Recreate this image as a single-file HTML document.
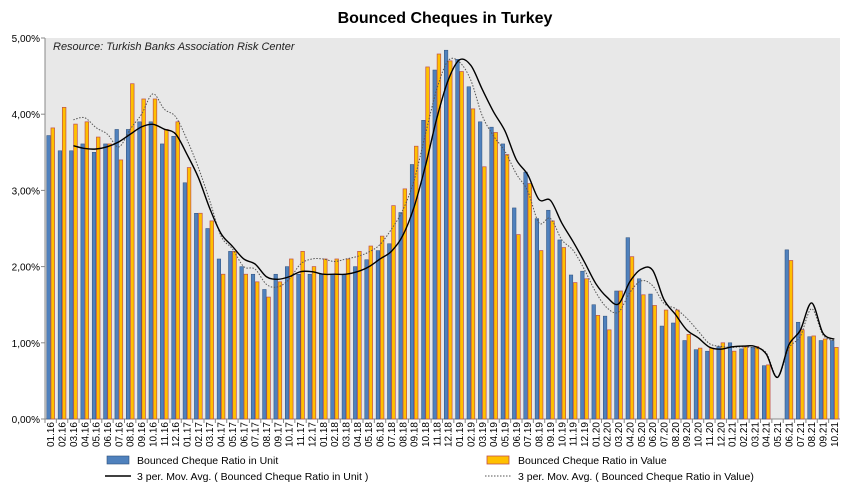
<!DOCTYPE html>
<html><head><meta charset="utf-8"><style>
body{margin:0;background:#fff;font-family:"Liberation Sans",sans-serif}
svg text{font-family:"Liberation Sans",sans-serif}
</style></head><body>
<svg width="841" height="492" viewBox="0 0 841 492" xmlns="http://www.w3.org/2000/svg">
<text x="445" y="23" text-anchor="middle" font-size="16" font-weight="bold">Bounced Cheques in Turkey</text>
<rect x="45" y="38" width="795" height="381" fill="#e8e8e8"/>
<text x="53" y="50" font-size="11" font-style="italic" fill="#222">Resource:  Turkish Banks Association Risk Center</text>
<g id="yaxis"></g>
<g id="xaxis"></g>
<g id="bars"></g>
<g id="lines"></g>
<g font-size="10.5">
<rect x="107" y="456" width="22" height="8" fill="#4f81bd" stroke="#2e4f7a" stroke-width="0.6"/>
<text x="137" y="464">Bounced Cheque Ratio in Unit</text>
<rect x="487" y="456" width="22" height="8" fill="#ffc000" stroke="#c0504d" stroke-width="0.8"/>
<text x="518" y="464">Bounced Cheque Ratio in Value</text>
<line x1="105" y1="476" x2="131" y2="476" stroke="#000" stroke-width="1.4"/>
<text x="137" y="480">3 per. Mov. Avg. ( Bounced Cheque Ratio in Unit )</text>
<line x1="485" y1="476" x2="511" y2="476" stroke="#555" stroke-width="1" stroke-dasharray="1.5,1.5"/>
<text x="518" y="480">3 per. Mov. Avg. ( Bounced Cheque Ratio in Value)</text>
</g>
</svg>
<script>
const categories=["01.16","02.16","03.16","04.16","05.16","06.16","07.16","08.16","09.16","10.16","11.16","12.16","01.17","02.17","03.17","04.17","05.17","06.17","07.17","08.17","09.17","10.17","11.17","12.17","01.18","02.18","03.18","04.18","05.18","06.18","07.18","08.18","09.18","10.18","11.18","12.18","01.19","02.19","03.19","04.19","05.19","06.19","07.19","08.19","09.19","10.19","11.19","12.19","01.20","02.20","03.20","04.20","05.20","06.20","07.20","08.20","09.20","10.20","11.20","12.20","01.21","02.21","03.21","04.21","05.21","06.21","07.21","08.21","09.21","10.21"];
const unitValues=[3.72,3.52,3.52,3.61,3.50,3.61,3.80,3.80,3.90,3.90,3.61,3.71,3.10,2.70,2.50,2.10,2.20,2.00,1.90,1.70,1.90,2.00,1.90,1.90,1.90,1.90,1.90,2.00,2.09,2.21,2.30,2.71,3.34,3.92,4.58,4.84,4.72,4.36,3.90,3.83,3.61,2.77,3.24,2.63,2.74,2.35,1.89,1.94,1.50,1.35,1.68,2.38,1.84,1.64,1.22,1.26,1.03,0.91,0.89,0.95,1.00,0.92,0.94,0.70,null,2.22,1.27,1.08,1.03,1.03];
const valueValues=[3.82,4.09,3.87,3.90,3.70,3.61,3.40,4.40,4.20,4.20,3.80,3.90,3.30,2.70,2.60,1.90,2.20,1.90,1.80,1.60,1.80,2.10,2.20,2.00,2.10,2.10,2.10,2.20,2.27,2.40,2.80,3.02,3.58,4.62,4.79,4.70,4.56,4.07,3.31,3.76,3.47,2.42,3.09,2.21,2.60,2.25,1.79,1.84,1.36,1.17,1.68,2.13,1.63,1.49,1.43,1.43,1.11,0.93,0.93,1.00,0.89,0.95,0.95,0.71,null,2.08,1.17,1.09,1.05,0.94];
const yTicks=[0,1,2,3,4,5];
const yTickLabels=["0,00%","1,00%","2,00%","3,00%","4,00%","5,00%"];
const NS="http://www.w3.org/2000/svg";
const X0=45,X1=840,Y0=419,Y1=38,YMAX=5;
const slot=(X1-X0)/categories.length;
const xs=i=>X0+(i+0.5)*slot;
const ys=v=>Y0-(v/YMAX)*(Y0-Y1);
function mk(tag,attrs,parent){const e=document.createElementNS(NS,tag);for(const k in attrs)e.setAttribute(k,attrs[k]);parent.appendChild(e);return e;}
const ya=document.getElementById('yaxis');
mk('line',{x1:X0,y1:Y1,x2:X0,y2:Y0,stroke:'#888','stroke-width':1},ya);
yTicks.forEach((t,i)=>{
 const tk=mk('line',{x1:X0-4,y1:ys(t),x2:X0,y2:ys(t),stroke:'#888'},ya);
 
 
 const tx=mk('text',{x:X0-5,y:ys(t)+4,'text-anchor':'end','font-size':10},ya);
 tx.textContent=yTickLabels[i];
 
 
});
const xa=document.getElementById('xaxis');
mk('line',{x1:X0,y1:Y0,x2:X1,y2:Y0,stroke:'#888'},xa);
categories.forEach((c,i)=>{
 const tk=mk('line',{x1:X0+i*slot,y1:Y0,x2:X0+i*slot,y2:Y0+4,stroke:'#888'},xa);
 
 
 const x=xs(i)+3.5,y=Y0+3;
 const tx=mk('text',{x:x,y:y,'text-anchor':'end','font-size':10,transform:`rotate(-90 ${x} ${y})`},xa);
 tx.textContent=c;
 
 
});
const bg=document.getElementById('bars');
const bw=3.6;
categories.forEach((c,i)=>{
 if(unitValues[i]!=null){
  const r=mk('rect',{x:xs(i)-bw-0.3,y:ys(unitValues[i]),width:bw,height:Y0-ys(unitValues[i]),fill:'#4f81bd',stroke:'#2e4f7a','stroke-width':0.5},bg);
  
  
 }
 if(valueValues[i]!=null){
  const r=mk('rect',{x:xs(i)+0.3,y:ys(valueValues[i]),width:bw,height:Y0-ys(valueValues[i]),fill:'#ffc000',stroke:'#c0504d','stroke-width':0.7},bg);
  
  
 }
});
function ma(arr){const out=[];for(let i=2;i<arr.length;i++){out.push([xs(i),ys(((arr[i]||0)+(arr[i-1]||0)+(arr[i-2]||0))/3)]);}return out;}
function smooth(p){let d=`M${p[0][0]},${p[0][1]}`;for(let i=0;i<p.length-1;i++){const a=p[i-1]||p[i],b=p[i],c=p[i+1],e=p[i+2]||c;const t=6;d+=` C${b[0]+(c[0]-a[0])/t},${b[1]+(c[1]-a[1])/t} ${c[0]-(e[0]-b[0])/t},${c[1]-(e[1]-b[1])/t} ${c[0]},${c[1]}`;}return d;}
const lg=document.getElementById('lines');
const l2=mk('path',{d:smooth(ma(valueValues)),fill:'none',stroke:'#555','stroke-width':1,'stroke-dasharray':'1.5,1.5'},lg);


const l1=mk('path',{d:smooth(ma(unitValues)),fill:'none',stroke:'#000','stroke-width':1.4},lg);


</script>
</body></html>
